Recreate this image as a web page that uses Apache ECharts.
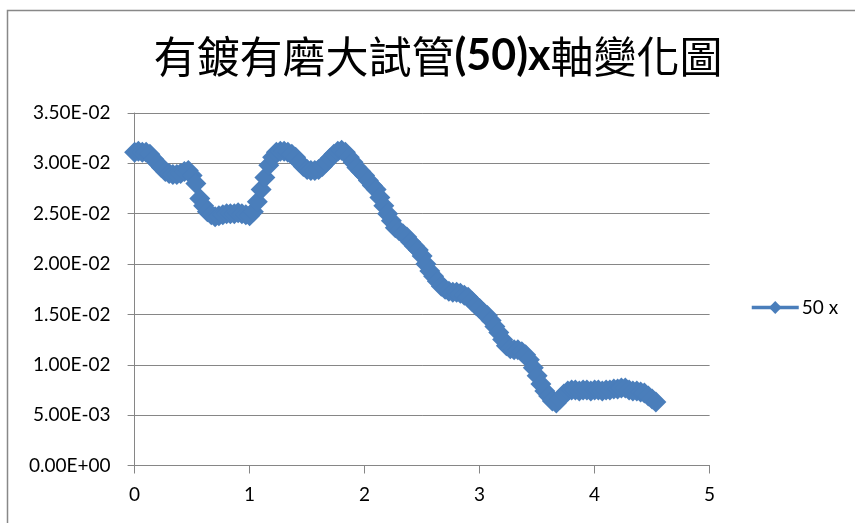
<!DOCTYPE html>
<html>
<head>
<meta charset="utf-8">
<script src="https://cdn.jsdelivr.net/npm/echarts@6/dist/echarts.min.js"></script>
<style>
  html, body { margin: 0; padding: 0; background: #fff; }
  #chart { width: 855px; height: 523px; }
</style>
</head>
<body>
<div id="chart"></div>
<script>
// Sampled times (s) and x-axis displacement for the 50 x run
const times = [
  0, 0.033, 0.067, 0.1, 0.133, 0.167, 0.2, 0.233, 0.267, 0.3,
  0.333, 0.367, 0.4, 0.433, 0.467, 0.5, 0.533, 0.567, 0.6, 0.633,
  0.667, 0.7, 0.733, 0.767, 0.8, 0.833, 0.867, 0.9, 0.933, 0.967,
  1.0, 1.033, 1.067, 1.1, 1.133, 1.167, 1.2, 1.233, 1.267, 1.3,
  1.333, 1.367, 1.4, 1.433, 1.467, 1.5, 1.533, 1.567, 1.6, 1.633,
  1.667, 1.7, 1.733, 1.767, 1.8, 1.833, 1.867, 1.9, 1.933, 1.967,
  2.0, 2.033, 2.067, 2.1, 2.133, 2.167, 2.2, 2.233, 2.267, 2.3,
  2.333, 2.367, 2.4, 2.433, 2.467, 2.5, 2.533, 2.567, 2.6, 2.633,
  2.667, 2.7, 2.733, 2.767, 2.8, 2.833, 2.867, 2.9, 2.933, 2.967,
  3.0, 3.033, 3.067, 3.1, 3.133, 3.167, 3.2, 3.233, 3.267, 3.3,
  3.333, 3.367, 3.4, 3.433, 3.467, 3.5, 3.533, 3.567, 3.6, 3.633,
  3.667, 3.7, 3.733, 3.767, 3.8, 3.833, 3.867, 3.9, 3.933, 3.967,
  4.0, 4.033, 4.067, 4.1, 4.133, 4.167, 4.2, 4.233, 4.267, 4.3,
  4.333, 4.367, 4.4, 4.433, 4.467, 4.5, 4.533
];
const xValues = [
  0.0311, 0.0312, 0.0311, 0.0311, 0.0309, 0.0304, 0.0300, 0.0296, 0.0292, 0.0290,
  0.0289, 0.0289, 0.0290, 0.0292, 0.0293, 0.0288, 0.0280, 0.0265, 0.0258, 0.0252,
  0.0249, 0.0247, 0.0248, 0.0249, 0.0250, 0.0250, 0.0250, 0.0251, 0.0250, 0.0249,
  0.0248, 0.0252, 0.0262, 0.0274, 0.0286, 0.0298, 0.0306, 0.0311, 0.0312, 0.0312,
  0.0311, 0.0309, 0.0306, 0.0301, 0.0297, 0.0294, 0.0293, 0.0293, 0.0294, 0.0297,
  0.0301, 0.0305, 0.0309, 0.0312, 0.0313, 0.0311, 0.0306, 0.0301, 0.0296, 0.0292,
  0.0288, 0.0283, 0.0278, 0.0274, 0.0266, 0.0258, 0.0250, 0.0243, 0.0236, 0.0233,
  0.0230, 0.0227, 0.0222, 0.0218, 0.0214, 0.0208, 0.0200, 0.0193, 0.0188, 0.0183,
  0.0178, 0.0175, 0.0173, 0.0172, 0.0172, 0.0171, 0.0169, 0.0167, 0.0163, 0.0159,
  0.0156, 0.0152, 0.0149, 0.0144, 0.0138, 0.0132, 0.0125, 0.0119, 0.0116, 0.0115,
  0.0115, 0.0113, 0.0110, 0.0105, 0.0097, 0.0089, 0.0081, 0.0074, 0.0069, 0.0064,
  0.0062, 0.0066, 0.0071, 0.0074, 0.0075, 0.0075, 0.0074, 0.0075, 0.0075, 0.0074,
  0.0075, 0.0075, 0.0074, 0.0075, 0.0075, 0.0076, 0.0076, 0.0077, 0.0077, 0.0075,
  0.0074, 0.0074, 0.0073, 0.0072, 0.0069, 0.0066, 0.0063
];
const yTickLabels = ['0.00E+00', '5.00E-03', '1.00E-02', '1.50E-02', '2.00E-02', '2.50E-02', '3.00E-02', '3.50E-02'];
const seriesName = '50 x';

const blue = '#4A7EBB';
const axisGray = '#868686';
const font = 'Lato, "Noto Sans", sans-serif';

const chart = echarts.init(document.getElementById('chart'), null, { renderer: 'canvas' });
chart.setOption({
  animation: false,
  backgroundColor: '#fff',
  title: {
    left: 433,
    top: 30,
    textAlign: 'center',
    text: '{a|有鍍有磨大試管}{b|(50)x}{a|軸變化圖}',
    textStyle: {
      rich: {
        a: { fontFamily: '"Noto Sans CJK TC", sans-serif', fontSize: 43, fontWeight: 'normal', color: '#000' },
        b: { fontFamily: font, fontSize: 43, fontWeight: 'bold', color: '#000' }
      }
    }
  },
  graphic: [{
    type: 'rect',
    shape: { x: 7.5, y: 10.5, width: 900, height: 600 },
    style: { fill: 'none', stroke: '#888', lineWidth: 1.5 },
    silent: true
  }],
  legend: {
    left: 750,
    top: 298,
    padding: 0,
    orient: 'vertical',
    itemWidth: 47,
    itemHeight: 16,
    itemGap: 8,
    lineStyle: { width: 3.5 },
    textStyle: { fontFamily: font, fontSize: 19, color: '#000', padding: [0, 0, 0, -2] },
    data: [seriesName]
  },
  grid: { left: 134.6, right: 145.4, top: 113, bottom: 57.5, containLabel: false },
  xAxis: {
    type: 'value',
    min: 0, max: 5, interval: 1,
    axisLine: { show: true, onZero: false, lineStyle: { color: axisGray, width: 1 } },
    axisTick: { show: true, inside: false, length: 8, lineStyle: { color: axisGray } },
    splitLine: { show: false },
    axisLabel: { fontFamily: font, fontSize: 19, color: '#000', margin: 20 }
  },
  yAxis: {
    type: 'value',
    min: 0, max: 0.035, interval: 0.005,
    axisLine: { show: true, lineStyle: { color: axisGray, width: 1 } },
    axisTick: { show: true, inside: false, length: 7, lineStyle: { color: axisGray } },
    splitLine: { show: true, lineStyle: { color: axisGray, width: 1 } },
    axisLabel: {
      fontFamily: font, fontSize: 19, color: '#000', margin: 24,
      formatter: v => yTickLabels[Math.round(v / 0.005)]
    }
  },
  series: [{
    name: seriesName,
    type: 'line',
    data: times.map((t, i) => [t, xValues[i]]),
    symbol: 'diamond',
    symbolSize: 21,
    showAllSymbol: true,
    lineStyle: { color: blue, width: 5 },
    itemStyle: { color: blue, borderWidth: 0 }
  }]
});
</script>
</body>
</html>
